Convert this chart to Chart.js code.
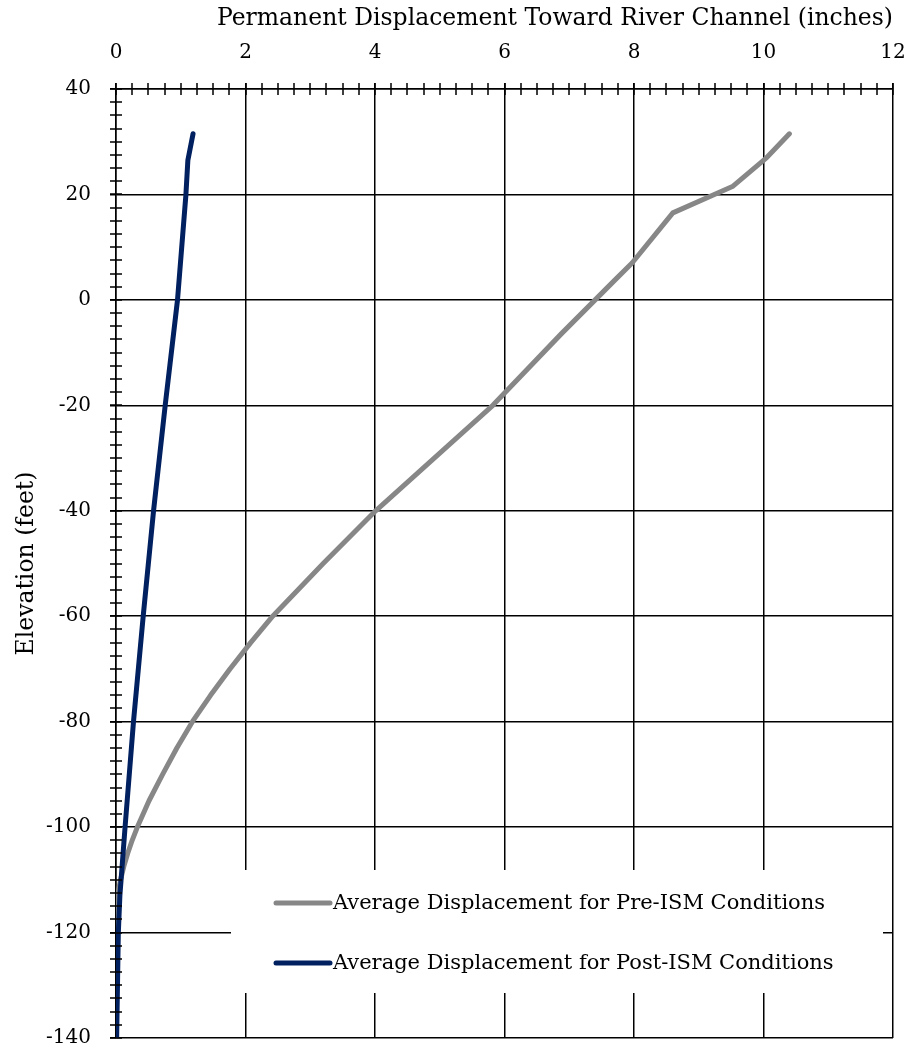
<!DOCTYPE html>
<html>
<head>
<meta charset="utf-8">
<title>Permanent Displacement Toward River Channel</title>
<script src="https://cdn.jsdelivr.net/npm/chart.js@4.4.0/dist/chart.umd.min.js"></script>
<style>
  html, body { margin: 0; padding: 0; background: #fff; }
  #wrap { width: 907px; height: 1046px; }
</style>
</head>
<body>
<div id="wrap"><canvas id="dispChart"></canvas></div>
<script>
// ========== Data ==========
const seriesLabels = [
  'Average Displacement for Pre-ISM Conditions',
  'Average Displacement for Post-ISM Conditions'
]

// Pre-ISM: displacement (in) vs elevation (ft)
const preIsmDisp = [10.4, 10.05, 9.52, 8.6, 7.97, 7.7, 7.4, 6.88, 5.82, 4.01, 3.2, 2.42, 2.08, 1.76, 1.46, 1.18, 0.94, 0.72, 0.51, 0.33, 0.25, 0.18, 0.12, 0.07, 0.03, 0.01, 0, 0]
const preIsmElev = [31.5, 27, 21.5, 16.5, 7, 3.7, 0, -6.4, -20, -40, -50, -60, -65, -70, -75, -80, -85, -90, -95, -100, -102.5, -105, -107.5, -110, -112.5, -115, -117, -140]

// Post-ISM
const postIsmDisp = [1.19, 1.11, 1.08, 0.95, 0.76, 0.58, 0.42, 0.27, 0.14, 0.06, 0.036, 0.01]
const postIsmElev = [31.5, 26.5, 20, 0, -20, -40, -60, -80, -100, -113, -120, -140]

// axis ticks
const xTicks = [0, 2, 4, 6, 8, 10, 12]
const yTicks = [-140, -120, -100, -80, -60, -40, -20, 0, 20, 40]
const xMinorStep = 0.25
const yMinorStep = 2.5

const seriesColors = ['#878787', '#002060']

// ========== Helpers ==========
function toPoints(xs, ys) {
  return xs.map((v, i) => ({ x: v, y: ys[i] }))
}

// minor tick marks crossing the top and left axes
const minorTicksPlugin = {
  id: 'minorTicks',
  afterDraw(chart) {
    const { ctx, chartArea, scales } = chart
    const xs = scales.x
    const ys = scales.y
    ctx.save()
    ctx.strokeStyle = '#000'
    ctx.lineWidth = 1.5
    ctx.beginPath()
    const nx = Math.round((xTicks[xTicks.length - 1] - xTicks[0]) / xMinorStep)
    for (let i = 0; i <= nx; i++) {
      const px = Math.round(xs.getPixelForValue(xTicks[0] + i * xMinorStep))
      ctx.moveTo(px, chartArea.top - 6)
      ctx.lineTo(px, chartArea.top + 6)
    }
    const ny = Math.round((yTicks[yTicks.length - 1] - yTicks[0]) / yMinorStep)
    for (let i = 0; i <= ny; i++) {
      const py = Math.round(ys.getPixelForValue(yTicks[0] + i * yMinorStep))
      ctx.moveTo(chartArea.left - 6, py)
      ctx.lineTo(chartArea.left + 6, py)
    }
    ctx.stroke()
    ctx.restore()
  }
}

// legend drawn inside the plot, on a white box
const insideLegendPlugin = {
  id: 'insideLegend',
  afterDatasetsDraw(chart) {
    const { ctx, chartArea } = chart
    const boxLeft = chartArea.left + 115
    const boxRight = chartArea.right - 10
    const boxTop = chartArea.bottom - 168
    const boxBottom = chartArea.bottom - 45
    ctx.save()
    ctx.fillStyle = '#fff'
    ctx.fillRect(boxLeft, boxTop, boxRight - boxLeft, boxBottom - boxTop)

    ctx.font = '21px "DejaVu Serif"'
    ctx.textBaseline = 'middle'
    ctx.textAlign = 'left'
    chart.data.datasets.forEach((ds, i) => {
      const rowY = boxTop + 33 + i * 60
      ctx.strokeStyle = ds.borderColor
      ctx.lineWidth = 5
      ctx.lineCap = 'round'
      ctx.beginPath()
      ctx.moveTo(boxLeft + 45, rowY)
      ctx.lineTo(boxLeft + 99, rowY)
      ctx.stroke()
      ctx.fillStyle = '#000'
      ctx.fillText(ds.label, boxLeft + 102, rowY + 1)
    })
    ctx.restore()
  }
}

function fixPadding(scale) {
  scale.paddingLeft = 0
  scale.paddingRight = 0
  scale.paddingTop = 0
  scale.paddingBottom = 0
}

// ========== Chart ==========
Chart.defaults.font.family = '"DejaVu Serif", serif'
Chart.defaults.color = '#000'

const ctx = document.getElementById('dispChart').getContext('2d')
const dispChart = new Chart(ctx, {
  type: 'scatter',
  data: {
    datasets: [
      {
        label: seriesLabels[0],
        data: toPoints(preIsmDisp, preIsmElev),
        showLine: true,
        borderColor: seriesColors[0],
        borderWidth: 5,
        borderJoinStyle: 'round',
        borderCapStyle: 'round',
        pointRadius: 0,
        tension: 0,
        order: 2
      },
      {
        label: seriesLabels[1],
        data: toPoints(postIsmDisp, postIsmElev),
        showLine: true,
        borderColor: seriesColors[1],
        borderWidth: 5,
        borderJoinStyle: 'round',
        borderCapStyle: 'round',
        pointRadius: 0,
        tension: 0,
        order: 1
      }
    ]
  },
  options: {
    responsive: true,
    maintainAspectRatio: false,
    animation: false,
    layout: { padding: { left: 0, top: 0, right: 14, bottom: 8 } },
    plugins: {
      legend: { display: false },
      tooltip: { enabled: false }
    },
    scales: {
      x: {
        type: 'linear',
        position: 'top',
        min: xTicks[0],
        max: xTicks[xTicks.length - 1],
        afterBuildTicks: scale => { scale.ticks = xTicks.map(v => ({ value: v })) },
        afterFit: scale => {
          scale.height = 89
          fixPadding(scale)
        },
        ticks: { font: { size: 20 }, padding: 18, maxRotation: 0 },
        grid: { color: '#000', lineWidth: 1.5, tickLength: 6 },
        border: { color: '#000', width: 1.5 },
        title: {
          display: true,
          text: 'Permanent Displacement Toward River Channel (inches)',
          align: 'end',
          font: { size: 23.5 },
          padding: { top: 5, bottom: 0 }
        }
      },
      y: {
        type: 'linear',
        min: yTicks[0],
        max: yTicks[yTicks.length - 1],
        afterBuildTicks: scale => { scale.ticks = yTicks.map(v => ({ value: v })) },
        afterFit: scale => {
          scale.width = 116
          fixPadding(scale)
        },
        ticks: { font: { size: 20 }, padding: 19 },
        grid: { color: '#000', lineWidth: 1.5, tickLength: 6 },
        border: { color: '#000', width: 1.5 },
        title: {
          display: true,
          text: 'Elevation (feet)',
          font: { size: 23.5 },
          padding: { top: 13, bottom: 0 }
        }
      }
    }
  },
  plugins: [minorTicksPlugin, insideLegendPlugin]
})
</script>
</body>
</html>
